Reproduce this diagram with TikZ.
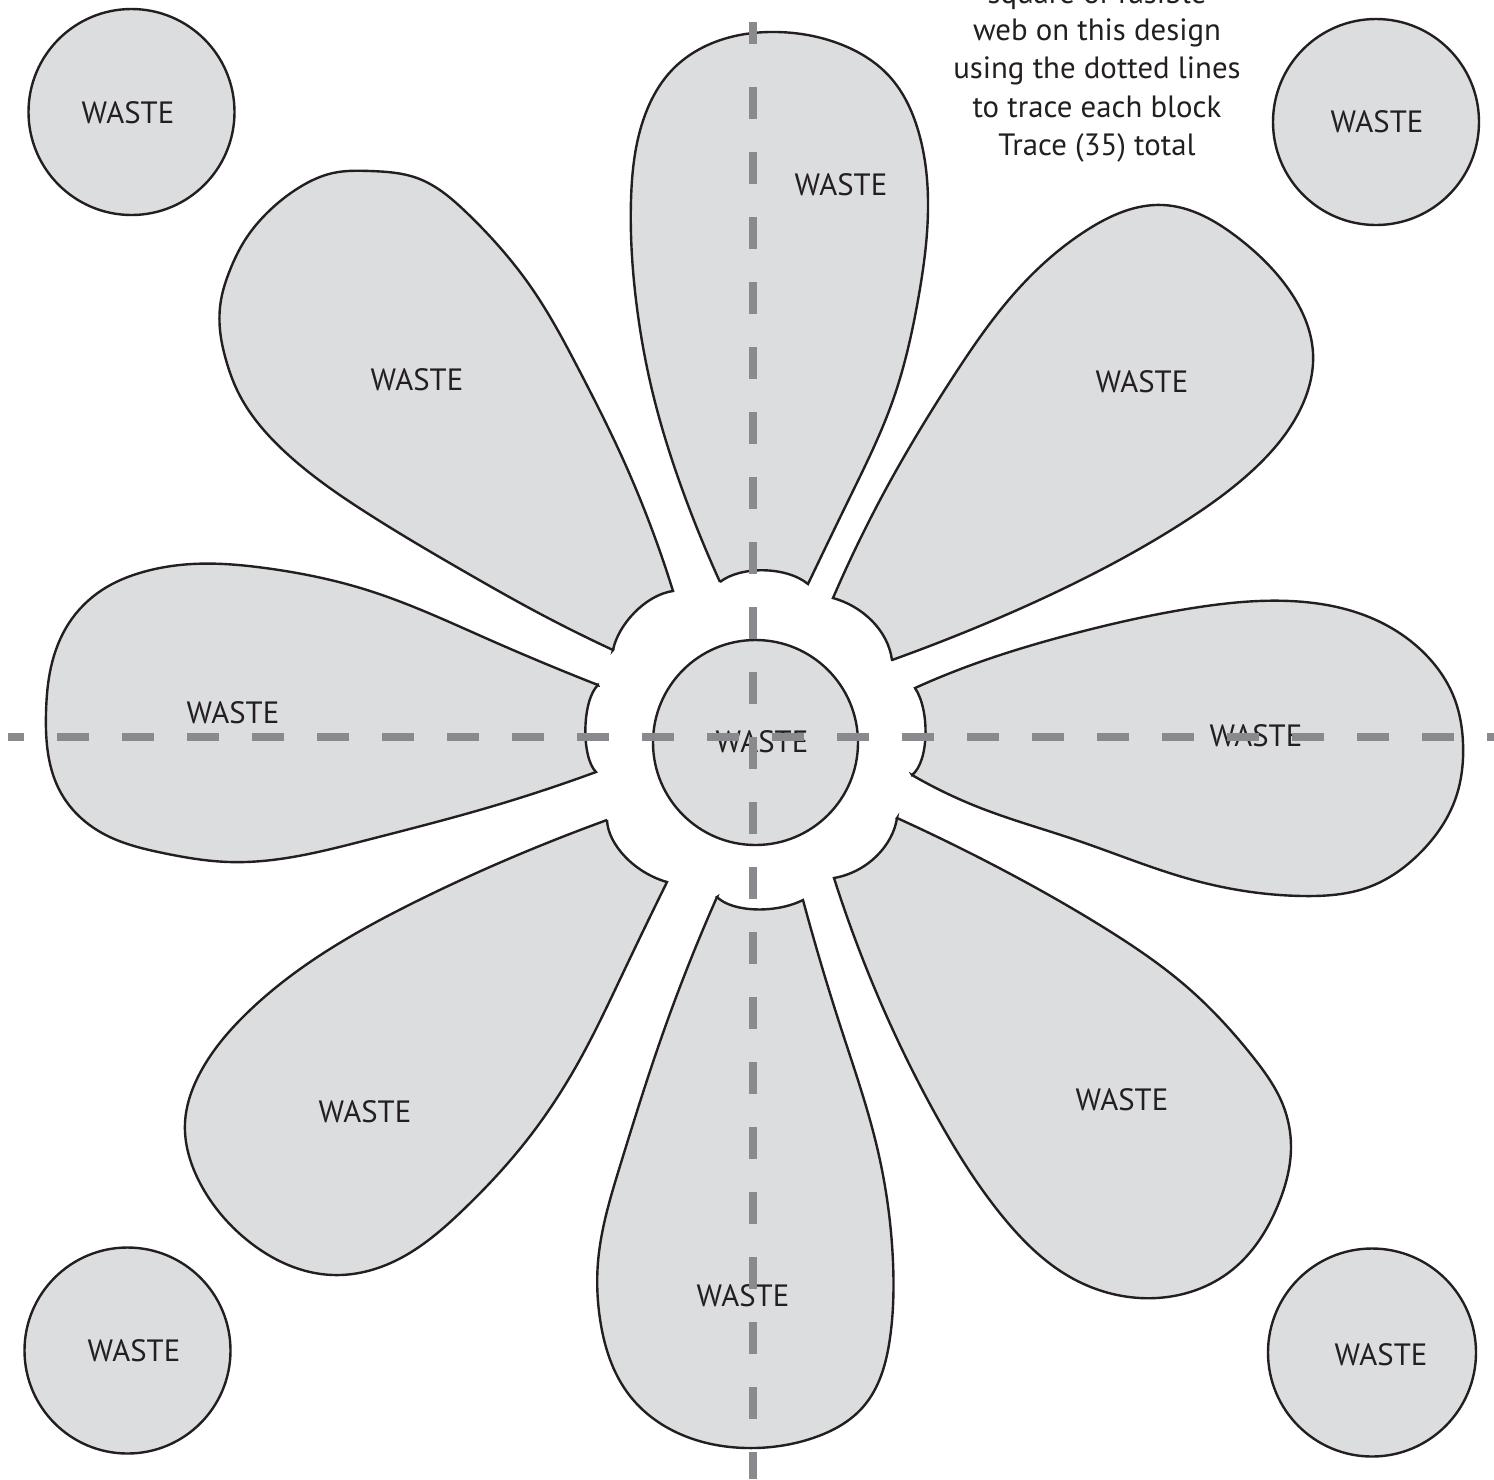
\documentclass[tikz,border=0pt]{standalone}
\usepackage{fontspec}
\setmainfont{PT Sans}
\usetikzlibrary{hobby}
\definecolor{petalfill}{HTML}{DCDDDF}
\definecolor{ink}{HTML}{231F20}
\definecolor{guidegray}{HTML}{898A8E}
\tikzset{
  petal/.style={fill=petalfill, draw=ink, line width=1.2pt, line join=miter},
  lbl/.style={text=ink, inner sep=0pt, font=\fontsize{15.4pt}{18pt}\selectfont},
  note/.style={text=ink, inner sep=0pt, anchor=base, font=\fontsize{15.4pt}{18pt}\selectfont},
  guide/.style={draw=guidegray, line width=4pt, dash pattern=on 16pt off 16.5pt}
}
\begin{document}
\begin{tikzpicture}[x=0.5pt, y=-0.5pt]
\useasboundingbox[fill=white] (0,0) rectangle (1494,1479);

% corner circles
\filldraw[petal] (131.5,112) circle[radius=51.5pt];
\filldraw[petal] (1376,122) circle[radius=51.5pt];
\filldraw[petal] (127.5,1350.5) circle[radius=51.5pt];
\filldraw[petal] (1372,1352.5) circle[radius=52pt];

% top petal
\filldraw[petal] (720,582) .. controls (740,566) and (786,566) .. (808,584)
  to[curve through={(850,497) .. (893,400) .. (918,300) .. (928,200) .. (918,130) .. (890,77) .. (840,44) .. (777,32) .. (715,42) .. (673,69) .. (645,115) .. (631,200) .. (636,300) .. (652,390) .. (685,497)}] (720,582) -- cycle;

% upper-right petal
\filldraw[petal] (892,660) .. controls (888,630) and (862,606) .. (833,598)
  to[curve through={(887,487) .. (953,377) .. (1020,287) .. (1087,230) .. (1163,205) .. (1237,237) .. (1287,287) .. (1313,353) .. (1300,410) .. (1253,470) .. (1187,520) .. (1087,577) .. (987,623)}] (892,660) -- cycle;

% right petal
\filldraw[petal] (912,775) .. controls (929,762) and (930,710) .. (915,688)
  to[curve through={(958,670) .. (1076,633) .. (1193,608) .. (1290,601) .. (1369,617) .. (1428,657) .. (1455,700) .. (1463,743) .. (1455,800) .. (1420,853) .. (1369,887) .. (1303,896) .. (1193,880) .. (1076,840) .. (978,807)}] (912,775) -- cycle;

% lower-right petal
\filldraw[petal] (897,818) .. controls (893,845) and (868,872) .. (834,878)
  to[curve through={(887,1017) .. (937,1117) .. (1003,1217) .. (1070,1277) .. (1140,1298) .. (1232,1270) .. (1278,1205) .. (1291,1147) .. (1283,1105) .. (1253,1057) .. (1187,987) .. (1103,927) .. (1003,870)}] (897,818) -- cycle;

% bottom petal
\filldraw[petal] (717,897) .. controls (732,912) and (775,914) .. (803,900)
  to[curve through={(840,1025) .. (877,1147) .. (893,1262) .. (890,1338) .. (863,1407) .. (813,1438) .. (747,1448) .. (680,1434) .. (630,1396) .. (600,1319) .. (598,1262) .. (620,1166) .. (663,1033)}] (717,897) -- cycle;

% lower-left petal
\filldraw[petal] (607,820) .. controls (608,845) and (635,873) .. (667,882)
  to[curve through={(623,973) .. (578,1063) .. (527,1140) .. (463,1210) .. (397,1260) .. (333,1275) .. (247,1240) .. (200,1183) .. (185,1123) .. (200,1073) .. (247,1013) .. (313,960) .. (413,903) .. (513,857)}] (607,820) -- cycle;

% left petal
\filldraw[petal] (598,685) .. controls (582,700) and (581,757) .. (596,772)
  to[curve through={(490,807) .. (367,840) .. (229,862) .. (163,853) .. (102,833) .. (61,793) .. (46,713) .. (51,667) .. (69,623) .. (102,590) .. (143,572) .. (192,564) .. (265,568) .. (367,590) .. (490,640)}] (598,685) -- cycle;

% upper-left petal
\filldraw[petal] (613,650) .. controls (618,625) and (645,595) .. (673,591)
  to[curve through={(622,457) .. (578,368) .. (533,290) .. (467,213) .. (417,178) .. (370,171) .. (333,173) .. (300,187) .. (267,213) .. (245,240) .. (230,270) .. (221,300) .. (220,330) .. (226,360) .. (238,392) .. (283,450) .. (367,513) .. (467,573) .. (533,610)}] (613,650) -- cycle;

% centre circle
\filldraw[petal] (755.5,742.5) circle[radius=51.25pt];

% labels
\node[lbl] (wtl) at (128,113) {WASTE};
\node[lbl] (wtr) at (1377,122) {WASTE};
\node[lbl] (wbl) at (134,1351) {WASTE};
\node[lbl] (wbr) at (1381,1355) {WASTE};
\node[lbl] (wtop) at (841,185) {WASTE};
\node[lbl] (wur) at (1142,382) {WASTE};
\node[lbl] (wul) at (417,380) {WASTE};
\node[lbl] (wl) at (233,713) {WASTE};
\node[lbl] (wr) at (1256,736) {WASTE};
\node[lbl] (wc) at (762,742) {WASTE};
\node[lbl] (wll) at (365,1112) {WASTE};
\node[lbl] (wlr) at (1122,1100) {WASTE};
\node[lbl] (wb) at (743,1296) {WASTE};

% note
\node[note] (n1) at (1097,3) {square of fusible};
\node[note] (n2) at (1097,40) {web on this design};
\node[note] (n3) at (1097,78) {using the dotted lines};
\node[note] (n4) at (1097,117) {to trace each block};
\node[note] (n5) at (1097,155) {Trace (35) total};

% guide lines
\coordinate (hl) at (8,737);
\coordinate (hr) at (1494,737);
\draw[guide, dash phase=8pt] (hl) -- (hr);
\coordinate (vt) at (753,22);
\coordinate (vt2) at (753,44);
\coordinate (vm) at (753,87);
\coordinate (vb) at (753,1479);
\draw[guide] (vt) -- (vt2) (vm) -- (vb);
\end{tikzpicture}
\end{document}
